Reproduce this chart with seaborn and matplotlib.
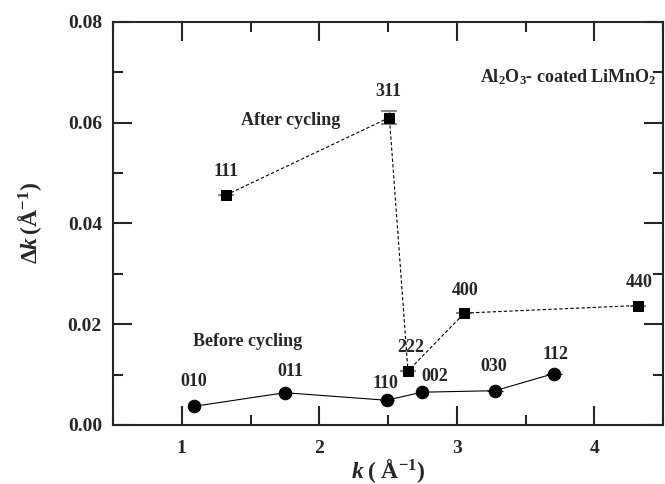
import matplotlib
matplotlib.use("Agg")
import matplotlib.pyplot as plt
import seaborn as sns
import pandas as pd
from matplotlib.ticker import MultipleLocator

# ---- data ----
before_labels = ["010", "011", "110", "002", "030", "112"]
before_k = [1.09, 1.75, 2.49, 2.746, 3.278, 3.708]
before_dk = [0.0037, 0.0064, 0.0049, 0.0065, 0.0068, 0.0102]
before_kerr = [0.04, 0.04, 0.05, 0.04, 0.06, 0.06]

after_labels = ["111", "311", "222", "400", "440"]
after_k = [1.32, 2.51, 2.645, 3.056, 4.316]
after_dk = [0.0456, 0.0610, 0.0107, 0.0222, 0.0237]
after_kerr = [0.05, 0.0, 0.05, 0.05, 0.05]
after_dkerr = [0.0, 0.0013, 0.0, 0.0, 0.0]

# label offsets in pixels (dx, dy)
before_off = [(0, 25), (5, 21), (-1, 17), (13, 16), (-1, 24), (1, 19)]
after_off = [(0, 24), (-1, 26), (3, 24), (1, 23), (1, 23)]

sns.set_style("ticks")
plt.rcParams["font.family"] = ["Liberation Serif", "DejaVu Serif"]
plt.rcParams["font.weight"] = "bold"
plt.rcParams["mathtext.fontset"] = "custom"
plt.rcParams["mathtext.rm"] = "Liberation Serif:bold"
plt.rcParams["mathtext.bf"] = "Liberation Serif:bold"
plt.rcParams["mathtext.it"] = "Liberation Serif:italic:bold"

fig = plt.figure(figsize=(6.65, 4.84), dpi=100)
ax = fig.add_axes([0.170, 0.122, 0.827, 0.833])

df_b = pd.DataFrame({"k": before_k, "dk": before_dk})
df_a = pd.DataFrame({"k": after_k, "dk": after_dk})

# error bars
ax.errorbar(before_k, before_dk, xerr=before_kerr, fmt="none", ecolor="black",
            elinewidth=0.8, capsize=0, zorder=2)
ax.errorbar(after_k, after_dk, xerr=after_kerr, fmt="none", ecolor="black",
            elinewidth=0.8, capsize=0, zorder=2)
ax.errorbar(after_k, after_dk, yerr=after_dkerr, fmt="none", ecolor="#888888",
            elinewidth=1.0, capsize=6, capthick=1.5, zorder=2)

sns.lineplot(data=df_b, x="k", y="dk", ax=ax, sort=False, estimator=None,
             color="black", linewidth=0.8, marker="o", markersize=9,
             markeredgecolor="black", zorder=3)
sns.lineplot(data=df_a, x="k", y="dk", ax=ax, sort=False, estimator=None,
             color="black", linewidth=0.8, marker="s", markersize=7.5,
             markeredgecolor="black", zorder=3)
ax.lines[-1].set_linestyle((0, (3, 2)))

for lab, x, y, (dx, dy) in zip(before_labels, before_k, before_dk, before_off):
    ax.annotate(lab, (x, y), xytext=(dx, dy), textcoords="offset pixels",
                ha="center", va="center", fontsize=13, fontweight="bold")
for lab, x, y, (dx, dy) in zip(after_labels, after_k, after_dk, after_off):
    ax.annotate(lab, (x, y), xytext=(dx, dy), textcoords="offset pixels",
                ha="center", va="center", fontsize=13, fontweight="bold")

ax.text(1.79, 0.0605, "After cycling", ha="center", va="center",
        fontsize=13, fontweight="bold")
ax.text(1.48, 0.0165, "Before cycling", ha="center", va="center",
        fontsize=13, fontweight="bold")
ax.text(3.17, 0.0690, r"Al$_2$O$_3$- coated LiMnO$_2$", ha="left", va="center",
        fontsize=13, fontweight="bold")

ax.set_xlim(0.5, 4.5)
ax.set_ylim(0.0, 0.08)
ax.xaxis.set_major_locator(MultipleLocator(1))
ax.xaxis.set_minor_locator(MultipleLocator(0.5))
ax.yaxis.set_major_locator(MultipleLocator(0.02))
ax.yaxis.set_minor_locator(MultipleLocator(0.01))
ax.set_yticklabels([f"{v:.2f}" for v in ax.get_yticks()])

ax.tick_params(which="major", direction="in", length=14, width=1.5,
               top=True, right=True, labelsize=14)
ax.tick_params(axis="x", which="major", pad=11)
ax.tick_params(axis="y", which="major", pad=8)
ax.tick_params(which="minor", direction="in", length=7, width=1.5,
               top=True, right=True)
for lbl in ax.get_xticklabels() + ax.get_yticklabels():
    lbl.set_fontweight("bold")
for s in ax.spines.values():
    s.set_linewidth(1.5)

ax.set_xlabel(r"$\mathit{k}\;(\;\mathrm{Å}^{\mathbf{-1}})$", fontsize=17, labelpad=0)
ax.set_ylabel(r"$\Delta\mathit{k}\,(\mathrm{Å}^{\mathbf{-1}})$", fontsize=17, labelpad=17)

fig.savefig("out.png", dpi=100)
